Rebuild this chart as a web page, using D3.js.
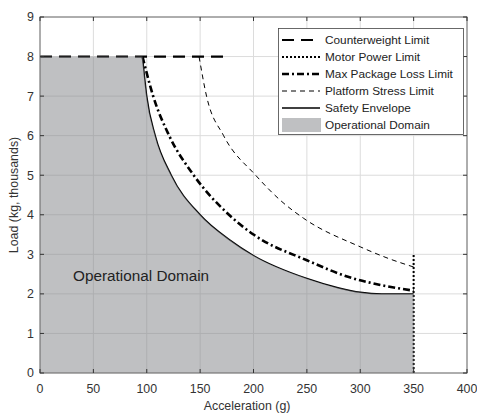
<!DOCTYPE html>
<html><head><meta charset="utf-8">
<script src="https://cdn.jsdelivr.net/npm/d3@7"></script>
<style>body{margin:0;background:#fff}svg{display:block;font-family:"Liberation Sans",Arial,sans-serif}</style>
</head><body><svg id="c" width="477" height="414"></svg>
<script>
const xTicks = [0,50,100,150,200,250,300,350,400];
const yTicks = [0,1,2,3,4,5,6,7,8,9];
const counterweight = [[0,8],[175,8]];
const motorPower = [[350,0],[350,3]];
const maxPackageLoss = [[96,8],[106,7],[121,6],[144,5],[177,4],[200,3.5],[250,2.85],[290,2.42],[320,2.22],[350,2.08]];
const platformStress = [[149,8],[156,7],[172,6],[202,5],[225,4.37],[247,3.91],[300,3.19],[326,2.9],[350,2.68]];
const safetyEnvelope = [[96,8],[100,7],[108,6],[123,5],[150,4],[178,3.36],[200,2.97],[250,2.39],[280,2.15],[300,2.04],[320,2.0],[350,2.0]];
const domainTop = [[0,8],[96,8]];
const legendLabels = ["Counterweight Limit","Motor Power Limit","Max Package Loss Limit","Platform Stress Limit","Safety Envelope","Operational Domain"];

const W=477,H=414,m={l:40,r:10,t:17,b:41};
const svg=d3.select("#c");
const x=d3.scaleLinear().domain([0,400]).range([m.l,W-m.r]);
const y=d3.scaleLinear().domain([0,9]).range([H-m.b,m.t]);
const pw=W-m.l-m.r, ph=H-m.t-m.b;
const FS=12.4;

// grid
const g=svg.append("g");
g.selectAll(".gx").data(xTicks).enter().append("line")
 .attr("x1",d=>x(d)).attr("x2",d=>x(d)).attr("y1",m.t).attr("y2",H-m.b)
 .attr("stroke","#dcdcdc").attr("stroke-width",1);
g.selectAll(".gy").data(yTicks).enter().append("line")
 .attr("y1",d=>y(d)).attr("y2",d=>y(d)).attr("x1",m.l).attr("x2",W-m.r)
 .attr("stroke","#dcdcdc").attr("stroke-width",1);

const line=d3.line().x(d=>x(d[0])).y(d=>y(d[1]));
const curve=d3.line().x(d=>x(d[0])).y(d=>y(d[1])).curve(d3.curveMonotoneX);

const styles={
 cw:{w:2.2,dash:"12,7"},
 mp:{w:2,dash:"2,2"},
 mpl:{w:2.6,dash:"7,3,2,3"},
 ps:{w:1,dash:"5,4"},
 se:{w:1.4,dash:null}
};
function path(data,st,gen){
 const p=svg.append("path").datum(data).attr("d",gen).attr("fill","none")
  .attr("stroke","#000").attr("stroke-width",st.w);
 if(st.dash) p.attr("stroke-dasharray",st.dash);
 return p;
}
path(counterweight,styles.cw,line);
path(motorPower,styles.mp,line);
path(maxPackageLoss,styles.mpl,curve);
path(platformStress,styles.ps,curve);
path(safetyEnvelope,styles.se,curve);

// operational domain patch
const envPath=curve(safetyEnvelope);
svg.append("path")
 .attr("d",`M${x(0)},${y(0)}L${x(domainTop[0][0])},${y(domainTop[0][1])}L${x(domainTop[1][0])},${y(domainTop[1][1])}`+envPath.replace(/^M/,"L")+`L${x(350)},${y(0)}Z`)
 .attr("fill","#7f8186").attr("fill-opacity",0.5).attr("stroke","none");

// box & ticks
svg.append("rect").attr("x",m.l).attr("y",m.t).attr("width",pw).attr("height",ph)
 .attr("fill","none").attr("stroke","#6e6e6e").attr("stroke-width",1);
const tl=4;
xTicks.forEach(t=>{
 svg.append("line").attr("x1",x(t)).attr("x2",x(t)).attr("y1",H-m.b).attr("y2",H-m.b-tl).attr("stroke","#333");
 svg.append("line").attr("x1",x(t)).attr("x2",x(t)).attr("y1",m.t).attr("y2",m.t+tl).attr("stroke","#333");
});
yTicks.forEach(t=>{
 svg.append("line").attr("y1",y(t)).attr("y2",y(t)).attr("x1",m.l).attr("x2",m.l+tl).attr("stroke","#333");
 svg.append("line").attr("y1",y(t)).attr("y2",y(t)).attr("x1",W-m.r).attr("x2",W-m.r-tl).attr("stroke","#333");
});
svg.selectAll(".xl").data(xTicks).enter().append("text")
 .attr("x",d=>x(d)).attr("y",H-m.b+20).attr("text-anchor","middle")
 .attr("font-size",FS).attr("fill","#333").text(d=>d);
svg.selectAll(".yl").data(yTicks).enter().append("text")
 .attr("x",m.l-6).attr("y",d=>y(d)+4.4).attr("text-anchor","end")
 .attr("font-size",FS).attr("fill","#333").text(d=>d);
svg.append("text").attr("x",x(194)).attr("y",410).attr("text-anchor","middle")
 .attr("font-size",FS).attr("fill","#333").text("Acceleration (g)");
svg.append("text").attr("transform",`translate(18,${y(4.5)}) rotate(-90)`).attr("text-anchor","middle")
 .attr("font-size",FS).attr("fill","#333").text("Load (kg, thousands)");

svg.append("text").attr("x",x(31)).attr("y",y(2.33)).attr("font-size",15.3).attr("fill","#222").text("Operational Domain");

// legend
const lg=svg.append("g");
lg.append("rect").attr("x",278.5).attr("y",28.5).attr("width",185).attr("height",106)
 .attr("fill","#fff").attr("stroke","#444").attr("stroke-width",0.8);
const keys=["cw","mp","mpl","ps","se"];
legendLabels.forEach((lab,i)=>{
 const cy=40+i*17;
 if(i<5){
  const st=styles[keys[i]];
  const l=lg.append("line").attr("x1",282).attr("x2",320).attr("y1",cy).attr("y2",cy)
   .attr("stroke","#000").attr("stroke-width",st.w);
  if(st.dash) l.attr("stroke-dasharray",st.dash);
 } else {
  lg.append("rect").attr("x",282).attr("y",cy-7).attr("width",39).attr("height",14)
   .attr("fill","#7f8186").attr("fill-opacity",0.5);
 }
 lg.append("text").attr("x",325).attr("y",cy+4.2).attr("font-size",11.8).attr("fill","#222").text(lab);
});
</script></body></html>
